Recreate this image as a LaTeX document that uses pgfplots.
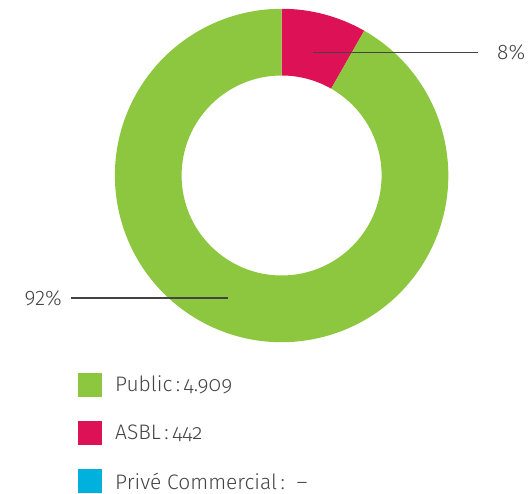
\documentclass[border=0pt]{standalone}
\usepackage{pgfplots}
\usepackage{pgfplotstable}
\pgfplotsset{compat=1.18}
\usepackage{fontspec}
\setmainfont{Fira Sans Light}
\definecolor{cgreen}{HTML}{8DC63F}
\definecolor{cmag}{HTML}{DD1256}
\definecolor{ccyan}{HTML}{00B1DD}
\definecolor{ctext}{HTML}{444444}
\pgfplotstableread{
label value
Public 4909
ASBL 442
Prive 0
}\data
\begin{document}
\begin{tikzpicture}
\pgfplotstablegetelem{0}{value}\of\data \let\vPub\pgfplotsretval
\pgfplotstablegetelem{1}{value}\of\data \let\vAsbl\pgfplotsretval
\pgfmathsetmacro{\fA}{\vAsbl/(\vPub+\vAsbl)}
\pgfmathsetmacro{\aEnd}{90-360*\fA}
\pgfmathsetmacro{\aLow}{90-360}
\def\cx{281.6}\def\cy{318.5}\def\Ro{166.7}\def\Ri{100}
\begin{axis}[x=1pt,y=1pt,xmin=0,xmax=532,ymin=0,ymax=494,hide axis,scale only axis,clip=false]
\path (axis cs:\cx,\cy) coordinate (C);
\path (axis cs:0,0) (axis cs:532,494);
% ASBL sector
\fill[cmag] ([shift={(90:\Ro pt)}]C) arc[start angle=90,end angle=\aEnd,radius=\Ro pt]
  -- ([shift={(\aEnd:\Ri pt)}]C) arc[start angle=\aEnd,end angle=90,radius=\Ri pt] -- cycle;
% Public sector
\fill[cgreen] ([shift={(\aEnd:\Ro pt)}]C) arc[start angle=\aEnd,end angle=\aLow,radius=\Ro pt]
  -- ([shift={(\aLow:\Ri pt)}]C) arc[start angle=\aLow,end angle=\aEnd,radius=\Ri pt] -- cycle;
% leaders
\draw[ctext,line width=1.1pt] (axis cs:313,441.5) -- (axis cs:478,441.5);
\node[anchor=west,text=ctext,font=\fontsize{21}{24}\selectfont,inner sep=0pt] at (axis cs:497,441.5) {8\%};
\draw[ctext,line width=1.1pt] (axis cs:71,196) -- (axis cs:228,196);
\node[anchor=east,text=ctext,font=\fontsize{21}{24}\selectfont,inner sep=0pt] at (axis cs:62,196) {92\%};
% legend
\fill[cgreen] (axis cs:78,97) rectangle (axis cs:102,121);
\fill[cmag] (axis cs:78,49) rectangle (axis cs:102,73);
\fill[ccyan] (axis cs:78,1) rectangle (axis cs:102,25);
\node[anchor=west,text=ctext,font=\fontsize{21}{24}\selectfont,inner sep=0pt] at (axis cs:115,109) {Public\,:\,{\addfontfeatures{Numbers=OldStyle}4.909}};
\node[anchor=west,text=ctext,font=\fontsize{21}{24}\selectfont,inner sep=0pt] at (axis cs:115,61) {ASBL\,:\,{\addfontfeatures{Numbers=OldStyle}442}};
\node[anchor=west,text=ctext,font=\fontsize{21}{24}\selectfont,inner sep=0pt] at (axis cs:115,13) {Privé Commercial\,:~~–};
\end{axis}
\end{tikzpicture}
\end{document}
